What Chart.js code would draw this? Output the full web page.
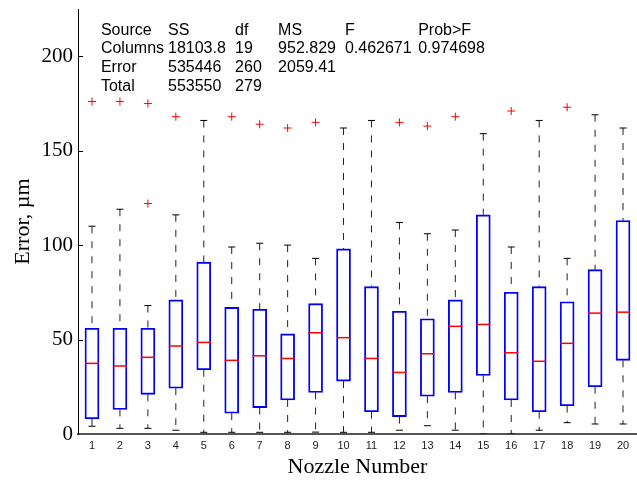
<!DOCTYPE html>
<html>
<head>
<meta charset="utf-8">
<title>Nozzle error boxplot</title>
<script src="https://cdn.jsdelivr.net/npm/chart.js@4.4.1/dist/chart.umd.min.js"></script>
<style>
  body { margin: 0; background: #fff; }
  #chart { display: block; }
</style>
</head>
<body>
<canvas id="chart" width="637" height="480"></canvas>
<script>
// box statistics per nozzle, error in µm
const nozzles = [1, 2, 3, 4, 5, 6, 7, 8, 9, 10, 11, 12, 13, 14, 15, 16, 17, 18, 19, 20];
const lowerWhisker = [4.1, 3, 3, 2, 0.9, 0.9, 0.9, 0.9, 1, 0.9, 0.9, 2, 4.4, 2, 0, 0, 2, 6, 5.3, 5.3];
const q1 = [8, 13, 21, 24.2, 34, 11, 14, 18, 22, 28, 11.8, 9.2, 20, 22, 31, 18, 11.8, 15, 25, 39];
const medians = [37.4, 36, 40.6, 46.6, 48.5, 39, 41.4, 40, 53.6, 51, 40, 32.6, 42.5, 57, 58, 43, 38.5, 48, 64, 64.5];
const q3 = [56, 56, 56, 71, 91, 67, 66, 53, 69, 98, 78, 65, 61, 71, 116, 75, 78, 70, 87, 113];
const upperWhisker = [110, 119, 68, 116, 166, 99, 101, 100, 93, 162, 166, 112, 106, 108, 159, 99, 166, 93, 169, 162];

// outliers: nozzle number and value
const outlierNozzle = [1, 2, 3, 3, 4, 6, 7, 8, 9, 12, 13, 14, 16, 18];
const outlierValue = [176, 176, 175, 122, 168, 168, 164, 162, 165, 165, 163, 168, 171, 173];

const yTicks = [0, 50, 100, 150, 200];

// one-way ANOVA table printed in the plot
const anovaHeader = ['Source', 'SS', 'df', 'MS', 'F', 'Prob>F'];
const anovaColumns = ['Columns', '18103.8', '19', '952.829', '0.462671', '0.974698'];
const anovaError = ['Error', '535446', '260', '2059.41', '', ''];
const anovaTotal = ['Total', '553550', '279', '', '', ''];

// table anchors in data units
const tableColX = [1.32, 3.72, 6.12, 7.66, 10.05, 12.67];
const tableRowY = [211.5, 201.5, 191.5, 181.5];

const boxData = nozzles.map((n, i) => ({ x: n, y: [q1[i], q3[i]] }));
const medianData = nozzles.map((n, i) => ({ x: n, y: medians[i] }));
const capData = nozzles.flatMap((n, i) => [{ x: n, y: lowerWhisker[i] }, { x: n, y: upperWhisker[i] }]);
const whiskerData = nozzles.flatMap((n, i) => [
  { x: n, y: upperWhisker[i] }, { x: n, y: q3[i] }, { x: n, y: null },
  { x: n, y: q1[i] }, { x: n, y: lowerWhisker[i] }, { x: n, y: null }
]);
const outlierData = outlierNozzle.map((n, i) => ({ x: n, y: outlierValue[i] }));

const overlay = {
  id: 'overlay',
  afterDatasetsDraw(chart) {
    const { ctx, chartArea, scales: { x, y } } = chart;
    ctx.save();
    // inward tick marks on the y axis
    ctx.strokeStyle = '#000';
    ctx.lineWidth = 1;
    yTicks.forEach(v => {
      if (v === 0) return;
      const py = Math.round(y.getPixelForValue(v)) + 0.5;
      ctx.beginPath();
      ctx.moveTo(chartArea.left, py);
      ctx.lineTo(chartArea.left + 5, py);
      ctx.stroke();
    });
    ctx.font = '16px "Liberation Sans", Arial, sans-serif';
    ctx.fillStyle = '#000';
    ctx.textBaseline = 'alphabetic';
    ctx.textAlign = 'left';
    [anovaHeader, anovaColumns, anovaError, anovaTotal].forEach((row, r) => {
      row.forEach((txt, c) => {
        ctx.fillText(txt, x.getPixelForValue(tableColX[c]), y.getPixelForValue(tableRowY[r]));
      });
    });
    ctx.restore();
  }
};

new Chart(document.getElementById('chart'), {
  type: 'bar',
  data: {
    datasets: [
      {
        type: 'scatter',
        data: medianData,
        pointStyle: 'line',
        radius: 7,
        borderColor: '#ff0000',
        borderWidth: 1.5
      },
      {
        type: 'scatter',
        data: outlierData,
        pointStyle: 'cross',
        radius: 4,
        borderColor: '#ff0000',
        borderWidth: 1
      },
      {
        type: 'scatter',
        data: capData,
        pointStyle: 'line',
        radius: 3.5,
        borderColor: '#000',
        borderWidth: 1
      },
      {
        type: 'bar',
        data: boxData,
        barThickness: 14,
        backgroundColor: 'rgba(0,0,0,0)',
        borderColor: '#0000ff',
        borderWidth: 1.2,
        borderSkipped: false
      },
      {
        type: 'line',
        data: whiskerData,
        borderColor: '#222',
        borderWidth: 1,
        borderDash: [7, 8],
        pointRadius: 0,
        spanGaps: false,
        fill: false
      }
    ]
  },
  options: {
    responsive: false,
    animation: false,
    layout: { autoPadding: false, padding: { top: 9, right: 0, bottom: 0, left: 0 } },
    plugins: {
      legend: { display: false },
      tooltip: { enabled: false }
    },
    scales: {
      x: {
        type: 'linear',
        min: 0.5,
        max: 20.5,
        offset: false,
        afterBuildTicks: s => { s.ticks = nozzles.map(v => ({ value: v })); },
        afterFit: s => { s.height = 46; s.paddingLeft = 0; s.paddingRight = 0; },
        grid: { display: false, drawTicks: false, offset: false },
        border: { display: true, color: '#555', width: 2 },
        ticks: {
          autoSkip: false,
          maxRotation: 0,
          padding: 5,
          color: '#222',
          font: { family: '"Liberation Sans", Arial, sans-serif', size: 11 },
          callback: v => String(v)
        },
        title: {
          display: true,
          text: 'Nozzle Number',
          color: '#000',
          font: { family: '"Liberation Serif", "Times New Roman", serif', size: 22 },
          padding: { top: 0, bottom: 0 }
        }
      },
      y: {
        min: 0,
        max: 225,
        afterBuildTicks: s => { s.ticks = yTicks.map(v => ({ value: v })); },
        afterFit: s => { s.width = 78; s.paddingTop = 0; s.paddingBottom = 0; },
        grid: { display: false, drawTicks: false },
        border: { display: true, color: '#000', width: 1 },
        ticks: {
          padding: 5,
          color: '#000',
          font: { family: '"Liberation Serif", "Times New Roman", serif', size: 21 },
          callback: v => String(v)
        },
        title: {
          display: true,
          text: 'Error, µm',
          color: '#000',
          font: { family: '"Liberation Serif", "Times New Roman", serif', size: 22 },
          padding: { top: 10, bottom: 0 }
        }
      }
    }
  },
  plugins: [overlay]
});
</script>
</body>
</html>
